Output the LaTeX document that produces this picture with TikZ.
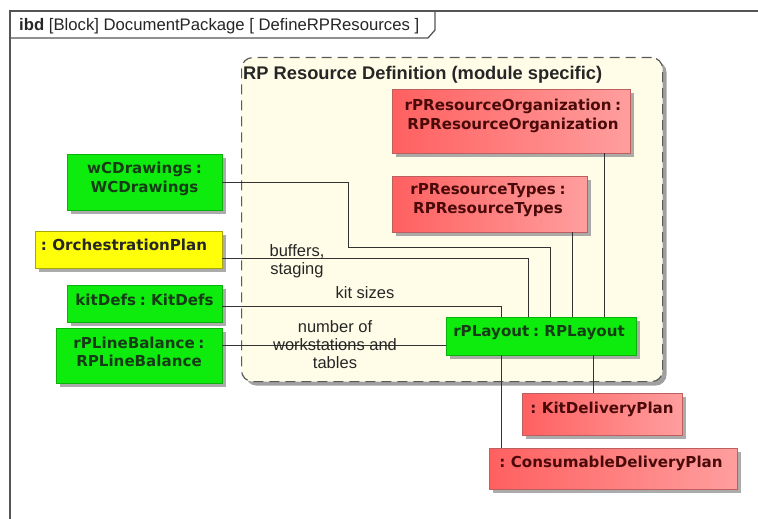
\documentclass[tikz,border=0pt]{standalone}
\usepackage{fontspec}
\setmainfont{Liberation Sans}
\newfontfamily\partfont[WordSpace=0.7]{DejaVu Sans}
\usetikzlibrary{calc,shadows}

\definecolor{framegray}{RGB}{85,85,85}
\definecolor{wiregray}{RGB}{50,50,50}
\definecolor{partgreen}{RGB}{14,236,14}
\definecolor{greentext}{RGB}{22,60,22}
\definecolor{partyellow}{RGB}{255,255,10}
\definecolor{redleft}{RGB}{255,96,96}
\definecolor{redright}{RGB}{255,158,158}
\definecolor{redborder}{RGB}{190,95,95}
\definecolor{redtext}{RGB}{75,10,10}
\definecolor{pkgfill}{RGB}{255,253,231}
\definecolor{shadowgray}{RGB}{150,150,150}

\tikzset{
  part/.style={rectangle, inner sep=0pt, anchor=north west,
    drop shadow={shadow xshift=4pt, shadow yshift=-4pt, fill=shadowgray, opacity=0.8}},
  greenpart/.style={part, fill=partgreen, draw=partgreen!75!black, line width=0.4pt},
  yellowpart/.style={part, fill=partyellow, draw=partyellow!65!black, line width=0.4pt},
  redpart/.style={part, left color=redleft, right color=redright, draw=redborder, line width=0.4pt},
  parttext/.style={align=center, inner sep=0pt, font=\partfont\bfseries\fontsize{15.1}{18.5}\selectfont},
  gtext/.style={parttext, text=greentext},
  ytext/.style={parttext, text=black!85},
  rtext/.style={parttext, text=redtext},
  wirelabel/.style={align=center, inner sep=0pt, font=\fontsize{16.5}{18}\selectfont, text=black!85},
  wire/.style={draw=wiregray, line width=0.8pt},
}

\begin{document}
\begin{tikzpicture}[x=1pt, y=-1pt]
\useasboundingbox[fill=white] (0,0) rectangle (758,519);

% diagram frame with its name tab
\draw[framegray, line width=1.3pt] (10,530) -- (10,11) -- (770,11);
\draw[framegray, line width=1.3pt] (10,38) -- (428,38) -- (435,30) -- (435,11);
\node[anchor=base west, inner sep=0pt, font=\fontsize{16.7}{18}\selectfont, text=black!85]
  (frame-title) at (19,31) {\textbf{ibd} [Block] DocumentPackage [ DefineRPResources ]};

% package with the resource definition parts
\node[rectangle, anchor=north west, minimum width=421, minimum height=324, inner sep=0pt,
  rounded corners=11pt, fill=pkgfill, draw=black!65, line width=1.2pt,
  dash pattern=on 10pt off 6pt,
  drop shadow={shadow xshift=4pt, shadow yshift=-4pt, fill=shadowgray, opacity=0.9}]
  (pkg) at (241,57) {};
\node[anchor=base west, inner sep=0pt, font=\bfseries\fontsize{18.3}{20}\selectfont, text=black!85]
  (pkg-title) at (243,80) {RP Resource Definition (module specific)};

% parts
\node[redpart, minimum width=238, minimum height=64] (rro) at (392,89) {};
\node[rtext] (rro-t) at (513,116) {rPResourceOrganization :\\RPResourceOrganization};

\node[redpart, minimum width=195, minimum height=56] (rto) at (392,176) {};
\node[rtext] (rto-t) at (488,200) {rPResourceTypes :\\RPResourceTypes};

\node[greenpart, minimum width=155, minimum height=56] (wcd) at (67,154) {};
\node[gtext] (wcd-t) at (144.5,179) {wCDrawings :\\WCDrawings};

\node[yellowpart, minimum width=187, minimum height=37] (orch) at (35,231) {};
\node[ytext] (orch-t) at (124,245) {: OrchestrationPlan};

\node[greenpart, minimum width=155, minimum height=37] (kit) at (67,285) {};
\node[gtext] (kit-t) at (144.5,300) {kitDefs : KitDefs};

\node[greenpart, minimum width=166, minimum height=55] (rlb) at (56,328) {};
\node[gtext] (rlb-t) at (139,352) {rPLineBalance :\\RPLineBalance};

\node[greenpart, minimum width=190, minimum height=38] (lay) at (446,317) {};
\node[gtext] (lay-t) at (539,333) {rPLayout : RPLayout};

\node[redpart, minimum width=160, minimum height=42] (kdp) at (522,393) {};
\node[rtext] (kdp-t) at (602,409) {: KitDeliveryPlan};

\node[redpart, minimum width=248, minimum height=41] (cdp) at (489,448) {};
\node[rtext] (cdp-t) at (611,463) {: ConsumableDeliveryPlan};

% connectors into rPLayout
\draw[wire] (wcd.east) -| (348,247) -| ($(lay.north west)+(104,0)$);
\draw[wire] ($(orch.north east)+(0,27)$) -| ($(lay.north west)+(82,0)$);
\draw[wire] ($(kit.east)+(0,3)$) -| ($(lay.north west)+(55,0)$);
\coordinate (lay-in) at ($(lay.west)+(0,9)$);
\draw[wire] (rlb.east |- lay-in) -- (lay-in);
\draw[wire] ($(rto.south east)+(-15,0)$) coordinate (rto-out) -- (rto-out |- lay.north);
\draw[wire] ($(rro.south east)+(-26,0)$) coordinate (rro-out) -- (rro-out |- lay.north);
% connectors out of rPLayout
\draw[wire] ($(kdp.north west)+(71,0)$) coordinate (kdp-in) -- (kdp-in |- lay.south);
\draw[wire] ($(cdp.north west)+(12,0)$) coordinate (cdp-in) -- (cdp-in |- lay.south);

% connector labels
\node[wirelabel] (lbl-buffers) at (297,261) {buffers,\\staging};
\node[wirelabel] (lbl-kit) at (365,293) {kit sizes};
\node[wirelabel] (lbl-stations) at (335,345) {number of\\workstations and\\tables};
\end{tikzpicture}
\end{document}
